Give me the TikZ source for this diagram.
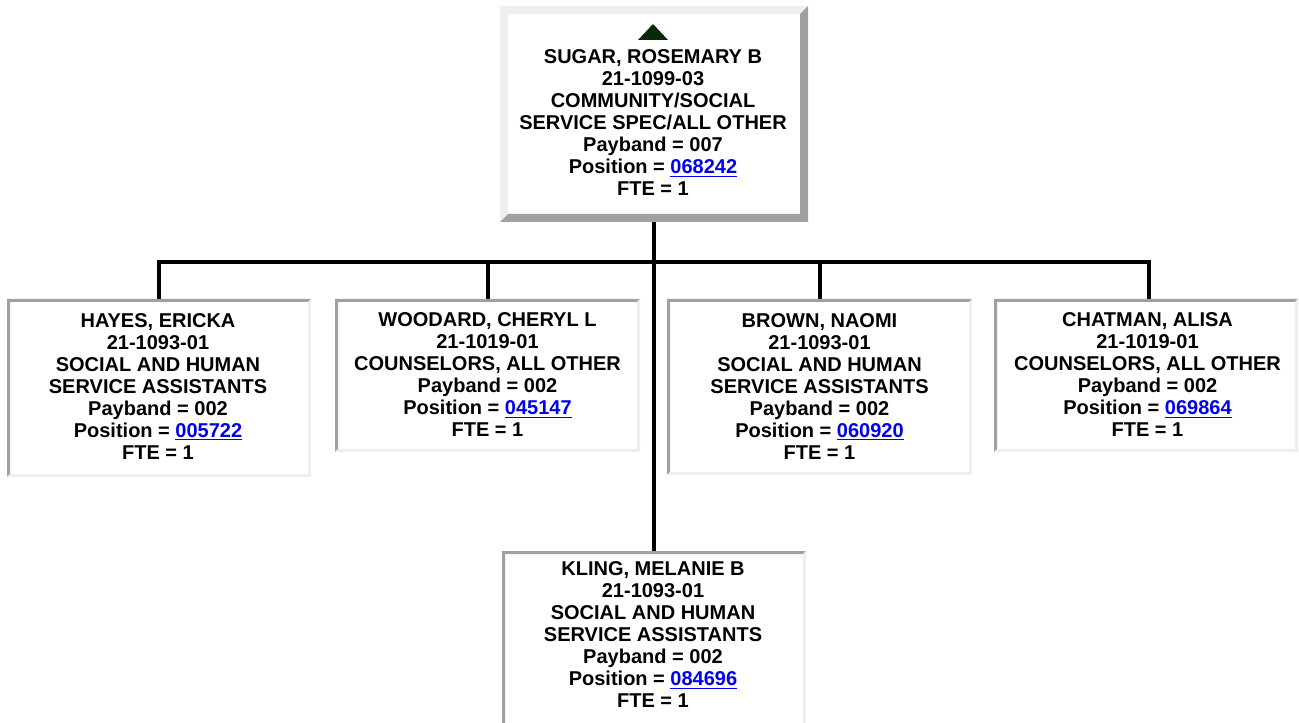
\documentclass[tikz,border=0pt]{standalone}
\usepackage{fontspec}
\setmainfont{Liberation Sans}
\usetikzlibrary{calc}
\definecolor{bevlight}{HTML}{EEEEEE}
\definecolor{bevdark}{HTML}{A0A0A0}
\definecolor{linkblue}{HTML}{0000EE}
\definecolor{arrowgreen}{rgb}{0.04,0.16,0.04}
\newcommand\poslink[1]{\textcolor{linkblue}{\underline{#1}}}
% bevel: node name, width (px), top-left colour, bottom-right colour
\newcommand\bevelframe[4]{%
  \fill[#3] (#1.north west) -- (#1.north east) -- ([shift={(-#2,#2)}]#1.north east)
    -- ([shift={(#2,#2)}]#1.north west) -- ([shift={(#2,-#2)}]#1.south west)
    -- (#1.south west) -- cycle;
  \fill[#4] (#1.south east) -- (#1.south west) -- ([shift={(#2,-#2)}]#1.south west)
    -- ([shift={(-#2,-#2)}]#1.south east) -- ([shift={(-#2,#2)}]#1.north east)
    -- (#1.north east) -- cycle;}
\begin{document}
\begin{tikzpicture}[x=0.75pt,y=-0.75pt,
  orgbox/.style={rectangle, inner sep=0pt, outer sep=0pt, fill=white},
  orgtext/.style={align=center, inner sep=0pt, font=\fontsize{15}{16.5}\selectfont\bfseries},
  link/.style={line width=3pt, draw=black}]
\useasboundingbox (0,0) rectangle (1299,723);
% boxes
\node[orgbox, minimum width=231pt, minimum height=162pt] (sugar) at (654,114) {};
\node[orgbox, minimum width=228pt, minimum height=133.5pt] (hayes) at (159,388) {};
\node[orgbox, minimum width=228.75pt, minimum height=114.75pt] (woodard) at (487.5,375.5) {};
\node[orgbox, minimum width=228.75pt, minimum height=132pt] (brown) at (819.5,387) {};
\node[orgbox, minimum width=228pt, minimum height=114.75pt] (chatman) at (1146,375.5) {};
\node[orgbox, minimum width=228pt, minimum height=132pt] (kling) at (654,639) {};
% connectors
\coordinate (busL) at (159,262);
\coordinate (busR) at (1149,262);
\draw[link] (sugar.south) -- (kling.north);
\draw[link] (hayes.north) -- (busL) -- (busR) -- (busR |- chatman.north);
\draw[link] (woodard.north |- busL) -- (woodard.north);
\draw[link] (brown.north |- busL) -- (brown.north);
% bevels
\bevelframe{sugar}{8}{bevlight}{bevdark}
\bevelframe{hayes}{3}{bevdark}{bevlight}
\bevelframe{woodard}{3}{bevdark}{bevlight}
\bevelframe{brown}{3}{bevdark}{bevlight}
\bevelframe{chatman}{3}{bevdark}{bevlight}
\bevelframe{kling}{3}{bevdark}{bevlight}
% up arrow
\fill[arrowgreen] (638,40) -- (653,24) -- (668,40) -- cycle;
% texts
\node[orgtext] (sugartext) at (653,123) {SUGAR, ROSEMARY B\\21-1099-03\\COMMUNITY/SOCIAL\\SERVICE SPEC/ALL OTHER\\Payband = 007\\Position = \poslink{068242}\\FTE = 1};
\node[orgtext] (hayestext) at (158,386.5) {HAYES, ERICKA\\21-1093-01\\SOCIAL AND HUMAN\\SERVICE ASSISTANTS\\Payband = 002\\Position = \poslink{005722}\\FTE = 1};
\node[orgtext] (woodardtext) at (487.5,375) {WOODARD, CHERYL L\\21-1019-01\\COUNSELORS, ALL OTHER\\Payband = 002\\Position = \poslink{045147}\\FTE = 1};
\node[orgtext] (browntext) at (819.5,386.5) {BROWN, NAOMI\\21-1093-01\\SOCIAL AND HUMAN\\SERVICE ASSISTANTS\\Payband = 002\\Position = \poslink{060920}\\FTE = 1};
\node[orgtext] (chatmantext) at (1147.5,375) {CHATMAN, ALISA\\21-1019-01\\COUNSELORS, ALL OTHER\\Payband = 002\\Position = \poslink{069864}\\FTE = 1};
\node[orgtext] (klingtext) at (653,635) {KLING, MELANIE B\\21-1093-01\\SOCIAL AND HUMAN\\SERVICE ASSISTANTS\\Payband = 002\\Position = \poslink{084696}\\FTE = 1};
\end{tikzpicture}
\end{document}
